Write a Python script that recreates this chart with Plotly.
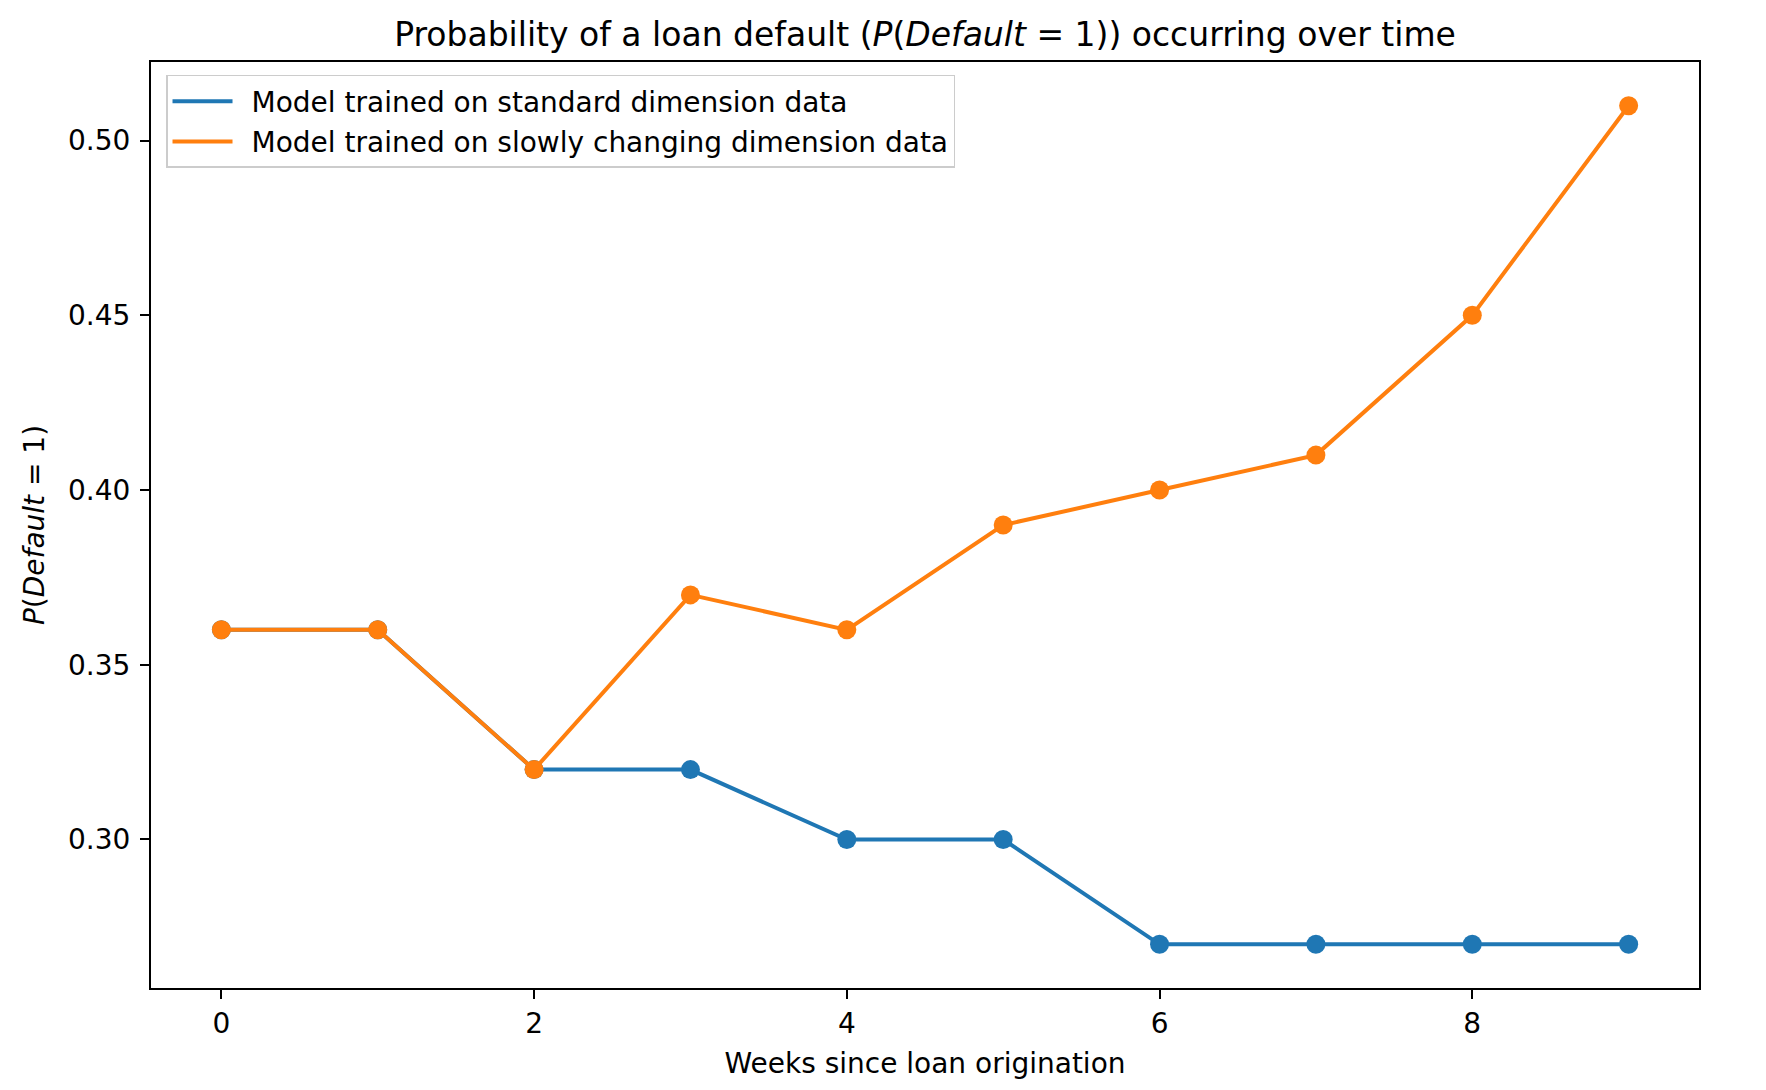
import plotly.graph_objects as go

weeks = [0, 1, 2, 3, 4, 5, 6, 7, 8, 9]
standard = [0.36, 0.36, 0.32, 0.32, 0.30, 0.30, 0.27, 0.27, 0.27, 0.27]
scd = [0.36, 0.36, 0.32, 0.37, 0.36, 0.39, 0.40, 0.41, 0.45, 0.51]
names = ["Model trained on standard dimension data",
         "Model trained on slowly changing dimension data"]
colors = ["#1f77b4", "#ff7f0e"]
x_ticks = [0, 2, 4, 6, 8]
y_ticks = [0.30, 0.35, 0.40, 0.45, 0.50]

FONT = "DejaVu Sans"
FS = 28
fig = go.Figure()
for i, (vals, name, col) in enumerate(zip([standard, scd], names, colors)):
    fig.add_trace(go.Scatter(x=weeks, y=vals, mode="lines", name="&#8194;" + name,
                             legendgroup=f"g{i}",
                             line=dict(color=col, width=4)))
    fig.add_trace(go.Scatter(x=weeks, y=vals, mode="markers", showlegend=False,
                             legendgroup=f"g{i}",
                             marker=dict(color=col, size=19, line=dict(width=0))))

fig.update_layout(
    width=1766, height=1090,
    margin=dict(l=143, r=75, t=54, b=110),
    paper_bgcolor="white", plot_bgcolor="white",
    font=dict(family=FONT, size=FS, color="black"),
    title=dict(text="Probability of a loan default (<i>P</i>(<i>Default</i> = 1)) occurring over time",
               x=0.5, xref="paper", xanchor="center",
               y=1 - 26 / 1090, yref="container", yanchor="middle",
               font=dict(size=33, family=FONT, color="black")),
    legend=dict(x=0.0097, y=0.986, xanchor="left", yanchor="top",
                bordercolor="#cccccc", borderwidth=1.5, bgcolor="rgba(255,255,255,0.8)",
                font=dict(size=FS, family=FONT, color="black"), itemwidth=60,
                tracegroupgap=1),
    showlegend=True,
)
fig.update_xaxes(range=[-0.45, 9.45], tickvals=x_ticks, ticktext=[str(v) for v in x_ticks],
                 showgrid=False, zeroline=False, showline=True, mirror=True,
                 linecolor="black", linewidth=2, ticks="outside", ticklen=9, tickwidth=2,
                 tickcolor="black", tickfont=dict(size=FS, family=FONT, color="black"),
                 title=dict(text="Weeks since loan origination", font=dict(size=FS, family=FONT, color="black")))
fig.update_yaxes(range=[0.2575, 0.5225], tickvals=y_ticks, ticktext=[f"{v:.2f}" for v in y_ticks],
                 showgrid=False, zeroline=False, showline=True, mirror=True,
                 linecolor="black", linewidth=2, ticks="outside", ticklen=9, tickwidth=2,
                 tickcolor="black", tickfont=dict(size=FS, family=FONT, color="black"),
                 ticklabelstandoff=4,
                 title=dict(text="<i>P</i>(<i>Default</i> = 1)", font=dict(size=FS, family=FONT, color="black")))

fig.write_html("out.html")
